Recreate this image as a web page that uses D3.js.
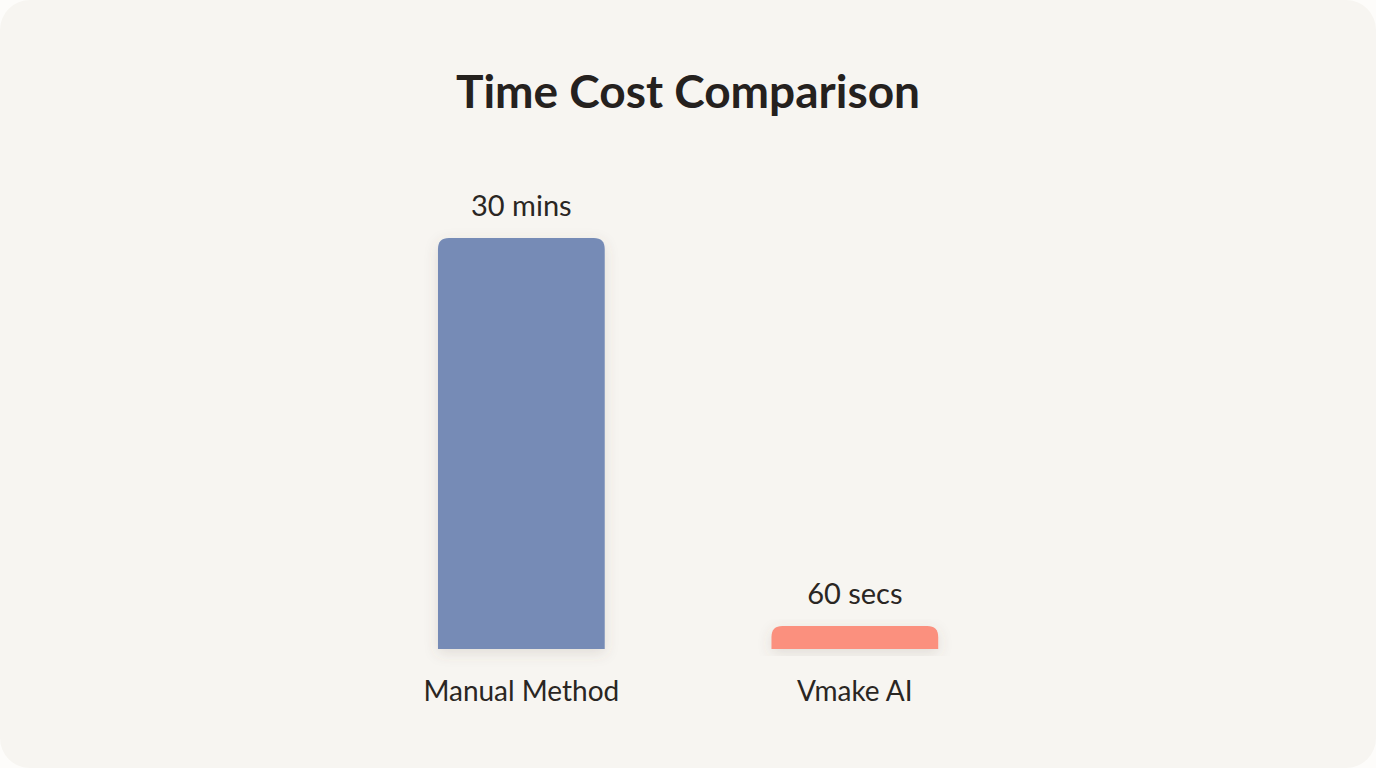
<!DOCTYPE html>
<html><head><meta charset="utf-8">
<script src="https://cdn.jsdelivr.net/npm/d3@7"></script>
<style>
html,body{margin:0;padding:0;background:#fdfcfa;}
svg{display:block;}
</style></head>
<body>
<script>
// data
var categories = ["Manual Method", "Vmake AI"];
var minutes = [30, 1];
var valueLabels = ["30 mins", "60 secs"];
var colors = ["#768bb6", "#fb907e"];

var W = 1376, H = 768;
var svg = d3.select("body").append("svg").attr("width", W).attr("height", H);

var defs = svg.append("defs");
var f = defs.append("filter").attr("id", "shadow").attr("x", "-30%").attr("y", "-30%").attr("width", "160%").attr("height", "160%");
f.append("feDropShadow").attr("dx", 0).attr("dy", 4).attr("stdDeviation", 7)
  .attr("flood-color", "#6a5a4a").attr("flood-opacity", 0.16);

// card
svg.append("rect").attr("x", 0).attr("y", 0).attr("width", W).attr("height", H)
  .attr("rx", 30).attr("fill", "#f7f5f1");

var font = "Lato, 'Open Sans', sans-serif";

svg.append("text").attr("x", 688).attr("y", 108).attr("text-anchor", "middle")
  .attr("font-family", font).attr("font-weight", 700).attr("font-size", 46)
  .attr("fill", "#25211e").text("Time Cost Comparison");

var x = d3.scaleBand().domain(categories).range([354.6, 1021.6]).paddingInner(0.5).paddingOuter(0.25);
var y = d3.scaleLinear().domain([0, 30]).range([649, 238]);
var minH = 23, r = 11;

function barPath(x0, w, top, bottom) {
  var rr = Math.min(r, (bottom - top));
  return "M" + x0 + "," + bottom + "V" + (top + rr) +
    "Q" + x0 + "," + top + " " + (x0 + rr) + "," + top +
    "H" + (x0 + w - rr) + "Q" + (x0 + w) + "," + top + " " + (x0 + w) + "," + (top + rr) +
    "V" + bottom + "Z";
}

var g = svg.selectAll("g.bar").data(categories).enter().append("g").attr("class", "bar");

g.append("path")
  .attr("d", function (d, i) {
    var top = Math.min(y(minutes[i]), y(0) - minH);
    return barPath(x(d), x.bandwidth(), top, y(0));
  })
  .attr("fill", function (d, i) { return colors[i]; })
  .attr("filter", "url(#shadow)");

g.append("text")
  .attr("x", function (d) { return x(d) + x.bandwidth() / 2; })
  .attr("y", function (d, i) { return Math.min(y(minutes[i]), y(0) - minH) - 22; })
  .attr("text-anchor", "middle").attr("font-family", font).attr("font-size", 29)
  .attr("fill", "#2a2623").text(function (d, i) { return valueLabels[i]; });

g.append("text")
  .attr("x", function (d) { return x(d) + x.bandwidth() / 2; })
  .attr("y", 701)
  .attr("text-anchor", "middle").attr("font-family", font).attr("font-size", 28)
  .attr("fill", "#2a2623").text(function (d) { return d; });
</script>
</body></html>
